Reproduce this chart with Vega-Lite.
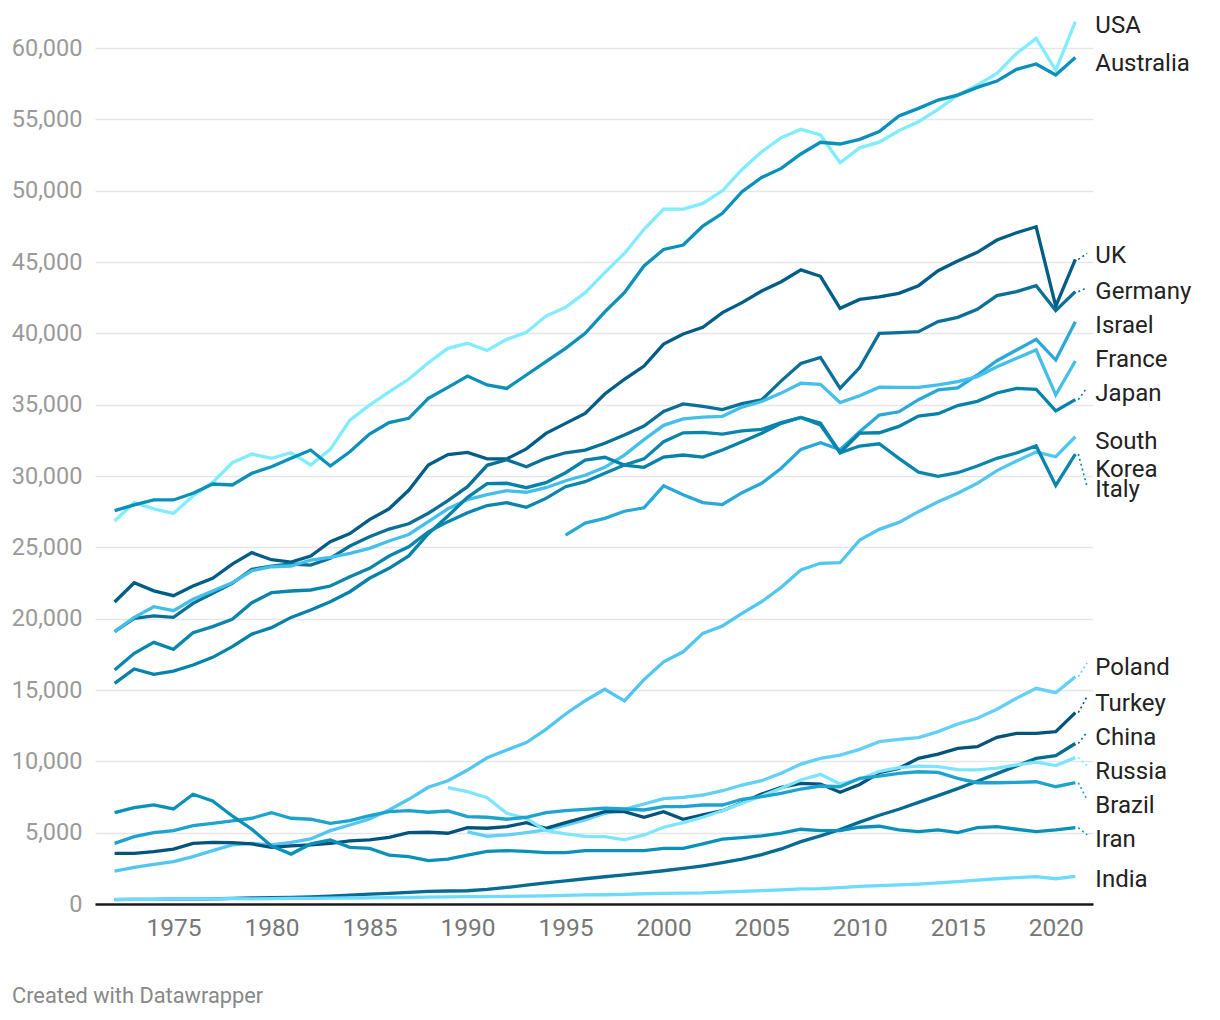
{
  "$schema": "https://vega.github.io/schema/vega-lite/v6.json",
  "width": 998,
  "height": 856,
  "autosize": {"type": "none"},
  "padding": {"left": 95, "top": 48, "right": 127, "bottom": 116},
  "background": "white",
  "config": {"font": "Roboto", "view": {"stroke": null}},
  "title": {"text": "Created with Datawrapper", "orient": "bottom", "anchor": "start", "frame": "group", "dx": -83, "offset": 46, "fontSize": 21.8, "fontWeight": "normal", "color": "#888888", "font": "Roboto"},
  "datasets": {
    "gdp": [
      {"country":"USA","year":1972,"gdp":26850},{"country":"USA","year":1973,"gdp":28130},{"country":"USA","year":1974,"gdp":27700},{"country":"USA","year":1975,"gdp":27380},{"country":"USA","year":1976,"gdp":28600},{"country":"USA","year":1977,"gdp":29550},{"country":"USA","year":1978,"gdp":30930},{"country":"USA","year":1979,"gdp":31540},{"country":"USA","year":1980,"gdp":31240},{"country":"USA","year":1981,"gdp":31630},
      {"country":"USA","year":1982,"gdp":30770},{"country":"USA","year":1983,"gdp":31870},{"country":"USA","year":1984,"gdp":33920},{"country":"USA","year":1985,"gdp":34970},{"country":"USA","year":1986,"gdp":35900},{"country":"USA","year":1987,"gdp":36780},{"country":"USA","year":1988,"gdp":37940},{"country":"USA","year":1989,"gdp":38950},{"country":"USA","year":1990,"gdp":39300},{"country":"USA","year":1991,"gdp":38800},
      {"country":"USA","year":1992,"gdp":39580},{"country":"USA","year":1993,"gdp":40070},{"country":"USA","year":1994,"gdp":41210},{"country":"USA","year":1995,"gdp":41820},{"country":"USA","year":1996,"gdp":42850},{"country":"USA","year":1997,"gdp":44250},{"country":"USA","year":1998,"gdp":45600},{"country":"USA","year":1999,"gdp":47290},{"country":"USA","year":2000,"gdp":48710},{"country":"USA","year":2001,"gdp":48710},
      {"country":"USA","year":2002,"gdp":49110},{"country":"USA","year":2003,"gdp":49990},{"country":"USA","year":2004,"gdp":51490},{"country":"USA","year":2005,"gdp":52730},{"country":"USA","year":2006,"gdp":53710},{"country":"USA","year":2007,"gdp":54300},{"country":"USA","year":2008,"gdp":53900},{"country":"USA","year":2009,"gdp":51960},{"country":"USA","year":2010,"gdp":53000},{"country":"USA","year":2011,"gdp":53400},
      {"country":"USA","year":2012,"gdp":54200},{"country":"USA","year":2013,"gdp":54830},{"country":"USA","year":2014,"gdp":55700},{"country":"USA","year":2015,"gdp":56700},{"country":"USA","year":2016,"gdp":57400},{"country":"USA","year":2017,"gdp":58220},{"country":"USA","year":2018,"gdp":59620},{"country":"USA","year":2019,"gdp":60670},{"country":"USA","year":2020,"gdp":58450},{"country":"USA","year":2021,"gdp":61840},

      {"country":"Australia","year":1972,"gdp":27570},{"country":"Australia","year":1973,"gdp":27970},{"country":"Australia","year":1974,"gdp":28320},{"country":"Australia","year":1975,"gdp":28320},{"country":"Australia","year":1976,"gdp":28790},{"country":"Australia","year":1977,"gdp":29440},{"country":"Australia","year":1978,"gdp":29370},{"country":"Australia","year":1979,"gdp":30190},{"country":"Australia","year":1980,"gdp":30650},{"country":"Australia","year":1981,"gdp":31240},
      {"country":"Australia","year":1982,"gdp":31820},{"country":"Australia","year":1983,"gdp":30700},{"country":"Australia","year":1984,"gdp":31700},{"country":"Australia","year":1985,"gdp":32940},{"country":"Australia","year":1986,"gdp":33740},{"country":"Australia","year":1987,"gdp":34040},{"country":"Australia","year":1988,"gdp":35440},{"country":"Australia","year":1989,"gdp":36210},{"country":"Australia","year":1990,"gdp":37010},{"country":"Australia","year":1991,"gdp":36380},
      {"country":"Australia","year":1992,"gdp":36140},{"country":"Australia","year":1993,"gdp":37080},{"country":"Australia","year":1994,"gdp":38010},{"country":"Australia","year":1995,"gdp":38950},{"country":"Australia","year":1996,"gdp":40000},{"country":"Australia","year":1997,"gdp":41500},{"country":"Australia","year":1998,"gdp":42850},{"country":"Australia","year":1999,"gdp":44720},{"country":"Australia","year":2000,"gdp":45880},{"country":"Australia","year":2001,"gdp":46190},
      {"country":"Australia","year":2002,"gdp":47520},{"country":"Australia","year":2003,"gdp":48410},{"country":"Australia","year":2004,"gdp":49930},{"country":"Australia","year":2005,"gdp":50930},{"country":"Australia","year":2006,"gdp":51560},{"country":"Australia","year":2007,"gdp":52570},{"country":"Australia","year":2008,"gdp":53390},{"country":"Australia","year":2009,"gdp":53270},{"country":"Australia","year":2010,"gdp":53600},{"country":"Australia","year":2011,"gdp":54150},
      {"country":"Australia","year":2012,"gdp":55230},{"country":"Australia","year":2013,"gdp":55770},{"country":"Australia","year":2014,"gdp":56350},{"country":"Australia","year":2015,"gdp":56700},{"country":"Australia","year":2016,"gdp":57240},{"country":"Australia","year":2017,"gdp":57680},{"country":"Australia","year":2018,"gdp":58500},{"country":"Australia","year":2019,"gdp":58880},{"country":"Australia","year":2020,"gdp":58110},{"country":"Australia","year":2021,"gdp":59340},

      {"country":"UK","year":1972,"gdp":21170},{"country":"UK","year":1973,"gdp":22520},{"country":"UK","year":1974,"gdp":21950},{"country":"UK","year":1975,"gdp":21610},{"country":"UK","year":1976,"gdp":22290},{"country":"UK","year":1977,"gdp":22830},{"country":"UK","year":1978,"gdp":23820},{"country":"UK","year":1979,"gdp":24630},{"country":"UK","year":1980,"gdp":24130},{"country":"UK","year":1981,"gdp":23970},
      {"country":"UK","year":1982,"gdp":24390},{"country":"UK","year":1983,"gdp":25390},{"country":"UK","year":1984,"gdp":25960},{"country":"UK","year":1985,"gdp":26940},{"country":"UK","year":1986,"gdp":27700},{"country":"UK","year":1987,"gdp":29000},{"country":"UK","year":1988,"gdp":30770},{"country":"UK","year":1989,"gdp":31500},{"country":"UK","year":1990,"gdp":31650},{"country":"UK","year":1991,"gdp":31200},
      {"country":"UK","year":1992,"gdp":31200},{"country":"UK","year":1993,"gdp":31900},{"country":"UK","year":1994,"gdp":32990},{"country":"UK","year":1995,"gdp":33690},{"country":"UK","year":1996,"gdp":34390},{"country":"UK","year":1997,"gdp":35750},{"country":"UK","year":1998,"gdp":36780},{"country":"UK","year":1999,"gdp":37710},{"country":"UK","year":2000,"gdp":39250},{"country":"UK","year":2001,"gdp":39950},
      {"country":"UK","year":2002,"gdp":40420},{"country":"UK","year":2003,"gdp":41450},{"country":"UK","year":2004,"gdp":42150},{"country":"UK","year":2005,"gdp":42970},{"country":"UK","year":2006,"gdp":43620},{"country":"UK","year":2007,"gdp":44450},{"country":"UK","year":2008,"gdp":44000},{"country":"UK","year":2009,"gdp":41750},{"country":"UK","year":2010,"gdp":42380},{"country":"UK","year":2011,"gdp":42550},
      {"country":"UK","year":2012,"gdp":42800},{"country":"UK","year":2013,"gdp":43340},{"country":"UK","year":2014,"gdp":44390},{"country":"UK","year":2015,"gdp":45070},{"country":"UK","year":2016,"gdp":45680},{"country":"UK","year":2017,"gdp":46540},{"country":"UK","year":2018,"gdp":47050},{"country":"UK","year":2019,"gdp":47470},{"country":"UK","year":2020,"gdp":41900},{"country":"UK","year":2021,"gdp":45180},

      {"country":"Germany","year":1972,"gdp":19090},{"country":"Germany","year":1973,"gdp":20020},{"country":"Germany","year":1974,"gdp":20190},{"country":"Germany","year":1975,"gdp":20090},{"country":"Germany","year":1976,"gdp":21070},{"country":"Germany","year":1977,"gdp":21780},{"country":"Germany","year":1978,"gdp":22480},{"country":"Germany","year":1979,"gdp":23460},{"country":"Germany","year":1980,"gdp":23690},{"country":"Germany","year":1981,"gdp":23830},
      {"country":"Germany","year":1982,"gdp":23760},{"country":"Germany","year":1983,"gdp":24230},{"country":"Germany","year":1984,"gdp":25090},{"country":"Germany","year":1985,"gdp":25740},{"country":"Germany","year":1986,"gdp":26280},{"country":"Germany","year":1987,"gdp":26650},{"country":"Germany","year":1988,"gdp":27390},{"country":"Germany","year":1989,"gdp":28270},{"country":"Germany","year":1990,"gdp":29250},{"country":"Germany","year":1991,"gdp":30750},
      {"country":"Germany","year":1992,"gdp":31140},{"country":"Germany","year":1993,"gdp":30650},{"country":"Germany","year":1994,"gdp":31240},{"country":"Germany","year":1995,"gdp":31630},{"country":"Germany","year":1996,"gdp":31820},{"country":"Germany","year":1997,"gdp":32290},{"country":"Germany","year":1998,"gdp":32870},{"country":"Germany","year":1999,"gdp":33500},{"country":"Germany","year":2000,"gdp":34520},{"country":"Germany","year":2001,"gdp":35050},
      {"country":"Germany","year":2002,"gdp":34880},{"country":"Germany","year":2003,"gdp":34650},{"country":"Germany","year":2004,"gdp":35070},{"country":"Germany","year":2005,"gdp":35330},{"country":"Germany","year":2006,"gdp":36670},{"country":"Germany","year":2007,"gdp":37890},{"country":"Germany","year":2008,"gdp":38310},{"country":"Germany","year":2009,"gdp":36140},{"country":"Germany","year":2010,"gdp":37600},{"country":"Germany","year":2011,"gdp":40000},
      {"country":"Germany","year":2012,"gdp":40050},{"country":"Germany","year":2013,"gdp":40120},{"country":"Germany","year":2014,"gdp":40820},{"country":"Germany","year":2015,"gdp":41120},{"country":"Germany","year":2016,"gdp":41680},{"country":"Germany","year":2017,"gdp":42640},{"country":"Germany","year":2018,"gdp":42920},{"country":"Germany","year":2019,"gdp":43340},{"country":"Germany","year":2020,"gdp":41600},{"country":"Germany","year":2021,"gdp":42920},

      {"country":"Israel","year":1995,"gdp":25860},{"country":"Israel","year":1996,"gdp":26700},{"country":"Israel","year":1997,"gdp":27030},{"country":"Israel","year":1998,"gdp":27530},{"country":"Israel","year":1999,"gdp":27770},{"country":"Israel","year":2000,"gdp":29310},{"country":"Israel","year":2001,"gdp":28690},
      {"country":"Israel","year":2002,"gdp":28140},{"country":"Israel","year":2003,"gdp":28000},{"country":"Israel","year":2004,"gdp":28830},{"country":"Israel","year":2005,"gdp":29490},{"country":"Israel","year":2006,"gdp":30540},{"country":"Israel","year":2007,"gdp":31870},{"country":"Israel","year":2008,"gdp":32330},{"country":"Israel","year":2009,"gdp":31850},{"country":"Israel","year":2010,"gdp":33100},{"country":"Israel","year":2011,"gdp":34270},
      {"country":"Israel","year":2012,"gdp":34500},{"country":"Israel","year":2013,"gdp":35350},{"country":"Israel","year":2014,"gdp":36030},{"country":"Israel","year":2015,"gdp":36180},{"country":"Israel","year":2016,"gdp":37080},{"country":"Israel","year":2017,"gdp":38080},{"country":"Israel","year":2018,"gdp":38830},{"country":"Israel","year":2019,"gdp":39580},{"country":"Israel","year":2020,"gdp":38130},{"country":"Israel","year":2021,"gdp":40810},

      {"country":"France","year":1972,"gdp":19090},{"country":"France","year":1973,"gdp":20090},{"country":"France","year":1974,"gdp":20840},{"country":"France","year":1975,"gdp":20560},{"country":"France","year":1976,"gdp":21360},{"country":"France","year":1977,"gdp":21940},{"country":"France","year":1978,"gdp":22520},{"country":"France","year":1979,"gdp":23360},{"country":"France","year":1980,"gdp":23640},{"country":"France","year":1981,"gdp":23690},
      {"country":"France","year":1982,"gdp":24110},{"country":"France","year":1983,"gdp":24300},{"country":"France","year":1984,"gdp":24580},{"country":"France","year":1985,"gdp":24930},{"country":"France","year":1986,"gdp":25440},{"country":"France","year":1987,"gdp":25900},{"country":"France","year":1988,"gdp":26800},{"country":"France","year":1989,"gdp":27700},{"country":"France","year":1990,"gdp":28350},{"country":"France","year":1991,"gdp":28690},
      {"country":"France","year":1992,"gdp":28970},{"country":"France","year":1993,"gdp":28860},{"country":"France","year":1994,"gdp":29180},{"country":"France","year":1995,"gdp":29670},{"country":"France","year":1996,"gdp":30050},{"country":"France","year":1997,"gdp":30610},{"country":"France","year":1998,"gdp":31470},{"country":"France","year":1999,"gdp":32550},{"country":"France","year":2000,"gdp":33550},{"country":"France","year":2001,"gdp":34000},
      {"country":"France","year":2002,"gdp":34130},{"country":"France","year":2003,"gdp":34180},{"country":"France","year":2004,"gdp":34830},{"country":"France","year":2005,"gdp":35220},{"country":"France","year":2006,"gdp":35810},{"country":"France","year":2007,"gdp":36500},{"country":"France","year":2008,"gdp":36420},{"country":"France","year":2009,"gdp":35150},{"country":"France","year":2010,"gdp":35620},{"country":"France","year":2011,"gdp":36230},
      {"country":"France","year":2012,"gdp":36210},{"country":"France","year":2013,"gdp":36210},{"country":"France","year":2014,"gdp":36380},{"country":"France","year":2015,"gdp":36610},{"country":"France","year":2016,"gdp":36960},{"country":"France","year":2017,"gdp":37660},{"country":"France","year":2018,"gdp":38250},{"country":"France","year":2019,"gdp":38830},{"country":"France","year":2020,"gdp":35680},{"country":"France","year":2021,"gdp":38060},

      {"country":"Japan","year":1972,"gdp":15470},{"country":"Japan","year":1973,"gdp":16470},{"country":"Japan","year":1974,"gdp":16100},{"country":"Japan","year":1975,"gdp":16330},{"country":"Japan","year":1976,"gdp":16750},{"country":"Japan","year":1977,"gdp":17290},{"country":"Japan","year":1978,"gdp":18040},{"country":"Japan","year":1979,"gdp":18920},{"country":"Japan","year":1980,"gdp":19370},{"country":"Japan","year":1981,"gdp":20090},
      {"country":"Japan","year":1982,"gdp":20610},{"country":"Japan","year":1983,"gdp":21190},{"country":"Japan","year":1984,"gdp":21890},{"country":"Japan","year":1985,"gdp":22830},{"country":"Japan","year":1986,"gdp":23530},{"country":"Japan","year":1987,"gdp":24400},{"country":"Japan","year":1988,"gdp":25950},{"country":"Japan","year":1989,"gdp":27200},{"country":"Japan","year":1990,"gdp":28500},{"country":"Japan","year":1991,"gdp":29460},
      {"country":"Japan","year":1992,"gdp":29490},{"country":"Japan","year":1993,"gdp":29180},{"country":"Japan","year":1994,"gdp":29530},{"country":"Japan","year":1995,"gdp":30230},{"country":"Japan","year":1996,"gdp":31120},{"country":"Japan","year":1997,"gdp":31310},{"country":"Japan","year":1998,"gdp":30770},{"country":"Japan","year":1999,"gdp":30610},{"country":"Japan","year":2000,"gdp":31330},{"country":"Japan","year":2001,"gdp":31470},
      {"country":"Japan","year":2002,"gdp":31330},{"country":"Japan","year":2003,"gdp":31820},{"country":"Japan","year":2004,"gdp":32400},{"country":"Japan","year":2005,"gdp":32990},{"country":"Japan","year":2006,"gdp":33690},{"country":"Japan","year":2007,"gdp":34110},{"country":"Japan","year":2008,"gdp":33700},{"country":"Japan","year":2009,"gdp":31630},{"country":"Japan","year":2010,"gdp":33000},{"country":"Japan","year":2011,"gdp":33030},
      {"country":"Japan","year":2012,"gdp":33480},{"country":"Japan","year":2013,"gdp":34200},{"country":"Japan","year":2014,"gdp":34370},{"country":"Japan","year":2015,"gdp":34940},{"country":"Japan","year":2016,"gdp":35230},{"country":"Japan","year":2017,"gdp":35820},{"country":"Japan","year":2018,"gdp":36140},{"country":"Japan","year":2019,"gdp":36080},{"country":"Japan","year":2020,"gdp":34560},{"country":"Japan","year":2021,"gdp":35350},

      {"country":"South Korea","year":1972,"gdp":2310},{"country":"South Korea","year":1973,"gdp":2570},{"country":"South Korea","year":1974,"gdp":2780},{"country":"South Korea","year":1975,"gdp":2970},{"country":"South Korea","year":1976,"gdp":3320},{"country":"South Korea","year":1977,"gdp":3740},{"country":"South Korea","year":1978,"gdp":4140},{"country":"South Korea","year":1979,"gdp":4250},{"country":"South Korea","year":1980,"gdp":4140},{"country":"South Korea","year":1981,"gdp":4320},
      {"country":"South Korea","year":1982,"gdp":4560},{"country":"South Korea","year":1983,"gdp":5140},{"country":"South Korea","year":1984,"gdp":5540},{"country":"South Korea","year":1985,"gdp":5960},{"country":"South Korea","year":1986,"gdp":6590},{"country":"South Korea","year":1987,"gdp":7340},{"country":"South Korea","year":1988,"gdp":8180},{"country":"South Korea","year":1989,"gdp":8640},{"country":"South Korea","year":1990,"gdp":9390},{"country":"South Korea","year":1991,"gdp":10250},
      {"country":"South Korea","year":1992,"gdp":10790},{"country":"South Korea","year":1993,"gdp":11310},{"country":"South Korea","year":1994,"gdp":12240},{"country":"South Korea","year":1995,"gdp":13320},{"country":"South Korea","year":1996,"gdp":14250},{"country":"South Korea","year":1997,"gdp":15050},{"country":"South Korea","year":1998,"gdp":14230},{"country":"South Korea","year":1999,"gdp":15730},{"country":"South Korea","year":2000,"gdp":16980},{"country":"South Korea","year":2001,"gdp":17680},
      {"country":"South Korea","year":2002,"gdp":18970},{"country":"South Korea","year":2003,"gdp":19490},{"country":"South Korea","year":2004,"gdp":20370},{"country":"South Korea","year":2005,"gdp":21190},{"country":"South Korea","year":2006,"gdp":22200},{"country":"South Korea","year":2007,"gdp":23410},{"country":"South Korea","year":2008,"gdp":23880},{"country":"South Korea","year":2009,"gdp":23920},{"country":"South Korea","year":2010,"gdp":25510},{"country":"South Korea","year":2011,"gdp":26260},
      {"country":"South Korea","year":2012,"gdp":26750},{"country":"South Korea","year":2013,"gdp":27500},{"country":"South Korea","year":2014,"gdp":28200},{"country":"South Korea","year":2015,"gdp":28790},{"country":"South Korea","year":2016,"gdp":29490},{"country":"South Korea","year":2017,"gdp":30380},{"country":"South Korea","year":2018,"gdp":31050},{"country":"South Korea","year":2019,"gdp":31680},{"country":"South Korea","year":2020,"gdp":31350},{"country":"South Korea","year":2021,"gdp":32750},

      {"country":"Italy","year":1972,"gdp":16400},{"country":"Italy","year":1973,"gdp":17570},{"country":"Italy","year":1974,"gdp":18340},{"country":"Italy","year":1975,"gdp":17850},{"country":"Italy","year":1976,"gdp":19020},{"country":"Italy","year":1977,"gdp":19440},{"country":"Italy","year":1978,"gdp":19950},{"country":"Italy","year":1979,"gdp":21120},{"country":"Italy","year":1980,"gdp":21820},{"country":"Italy","year":1981,"gdp":21940},
      {"country":"Italy","year":1982,"gdp":22010},{"country":"Italy","year":1983,"gdp":22290},{"country":"Italy","year":1984,"gdp":22940},{"country":"Italy","year":1985,"gdp":23530},{"country":"Italy","year":1986,"gdp":24390},{"country":"Italy","year":1987,"gdp":25040},{"country":"Italy","year":1988,"gdp":26090},{"country":"Italy","year":1989,"gdp":26800},{"country":"Italy","year":1990,"gdp":27430},{"country":"Italy","year":1991,"gdp":27930},
      {"country":"Italy","year":1992,"gdp":28130},{"country":"Italy","year":1993,"gdp":27810},{"country":"Italy","year":1994,"gdp":28430},{"country":"Italy","year":1995,"gdp":29250},{"country":"Italy","year":1996,"gdp":29600},{"country":"Italy","year":1997,"gdp":30190},{"country":"Italy","year":1998,"gdp":30770},{"country":"Italy","year":1999,"gdp":31200},{"country":"Italy","year":2000,"gdp":32400},{"country":"Italy","year":2001,"gdp":33030},
      {"country":"Italy","year":2002,"gdp":33060},{"country":"Italy","year":2003,"gdp":32940},{"country":"Italy","year":2004,"gdp":33170},{"country":"Italy","year":2005,"gdp":33270},{"country":"Italy","year":2006,"gdp":33740},{"country":"Italy","year":2007,"gdp":34110},{"country":"Italy","year":2008,"gdp":33570},{"country":"Italy","year":2009,"gdp":31630},{"country":"Italy","year":2010,"gdp":32100},{"country":"Italy","year":2011,"gdp":32260},
      {"country":"Italy","year":2012,"gdp":31240},{"country":"Italy","year":2013,"gdp":30270},{"country":"Italy","year":2014,"gdp":29980},{"country":"Italy","year":2015,"gdp":30230},{"country":"Italy","year":2016,"gdp":30700},{"country":"Italy","year":2017,"gdp":31240},{"country":"Italy","year":2018,"gdp":31610},{"country":"Italy","year":2019,"gdp":32110},{"country":"Italy","year":2020,"gdp":29340},{"country":"Italy","year":2021,"gdp":31540},

      {"country":"Poland","year":1990,"gdp":5060},{"country":"Poland","year":1991,"gdp":4750},
      {"country":"Poland","year":1992,"gdp":4840},{"country":"Poland","year":1993,"gdp":5000},{"country":"Poland","year":1994,"gdp":5190},{"country":"Poland","year":1995,"gdp":5520},{"country":"Poland","year":1996,"gdp":5890},{"country":"Poland","year":1997,"gdp":6360},{"country":"Poland","year":1998,"gdp":6630},{"country":"Poland","year":1999,"gdp":7010},{"country":"Poland","year":2000,"gdp":7380},{"country":"Poland","year":2001,"gdp":7480},
      {"country":"Poland","year":2002,"gdp":7640},{"country":"Poland","year":2003,"gdp":7940},{"country":"Poland","year":2004,"gdp":8340},{"country":"Poland","year":2005,"gdp":8640},{"country":"Poland","year":2006,"gdp":9160},{"country":"Poland","year":2007,"gdp":9810},{"country":"Poland","year":2008,"gdp":10210},{"country":"Poland","year":2009,"gdp":10440},{"country":"Poland","year":2010,"gdp":10840},{"country":"Poland","year":2011,"gdp":11380},
      {"country":"Poland","year":2012,"gdp":11540},{"country":"Poland","year":2013,"gdp":11660},{"country":"Poland","year":2014,"gdp":12080},{"country":"Poland","year":2015,"gdp":12620},{"country":"Poland","year":2016,"gdp":13020},{"country":"Poland","year":2017,"gdp":13650},{"country":"Poland","year":2018,"gdp":14420},{"country":"Poland","year":2019,"gdp":15120},{"country":"Poland","year":2020,"gdp":14810},{"country":"Poland","year":2021,"gdp":15930},

      {"country":"Turkey","year":1972,"gdp":3550},{"country":"Turkey","year":1973,"gdp":3550},{"country":"Turkey","year":1974,"gdp":3670},{"country":"Turkey","year":1975,"gdp":3850},{"country":"Turkey","year":1976,"gdp":4250},{"country":"Turkey","year":1977,"gdp":4320},{"country":"Turkey","year":1978,"gdp":4300},{"country":"Turkey","year":1979,"gdp":4210},{"country":"Turkey","year":1980,"gdp":3970},{"country":"Turkey","year":1981,"gdp":4070},
      {"country":"Turkey","year":1982,"gdp":4140},{"country":"Turkey","year":1983,"gdp":4250},{"country":"Turkey","year":1984,"gdp":4420},{"country":"Turkey","year":1985,"gdp":4490},{"country":"Turkey","year":1986,"gdp":4670},{"country":"Turkey","year":1987,"gdp":5000},{"country":"Turkey","year":1988,"gdp":5030},{"country":"Turkey","year":1989,"gdp":4960},{"country":"Turkey","year":1990,"gdp":5350},{"country":"Turkey","year":1991,"gdp":5310},
      {"country":"Turkey","year":1992,"gdp":5420},{"country":"Turkey","year":1993,"gdp":5700},{"country":"Turkey","year":1994,"gdp":5310},{"country":"Turkey","year":1995,"gdp":5700},{"country":"Turkey","year":1996,"gdp":6080},{"country":"Turkey","year":1997,"gdp":6470},{"country":"Turkey","year":1998,"gdp":6470},{"country":"Turkey","year":1999,"gdp":6080},{"country":"Turkey","year":2000,"gdp":6470},{"country":"Turkey","year":2001,"gdp":5940},
      {"country":"Turkey","year":2002,"gdp":6240},{"country":"Turkey","year":2003,"gdp":6540},{"country":"Turkey","year":2004,"gdp":7100},{"country":"Turkey","year":2005,"gdp":7710},{"country":"Turkey","year":2006,"gdp":8180},{"country":"Turkey","year":2007,"gdp":8460},{"country":"Turkey","year":2008,"gdp":8410},{"country":"Turkey","year":2009,"gdp":7830},{"country":"Turkey","year":2010,"gdp":8380},{"country":"Turkey","year":2011,"gdp":9200},
      {"country":"Turkey","year":2012,"gdp":9510},{"country":"Turkey","year":2013,"gdp":10210},{"country":"Turkey","year":2014,"gdp":10510},{"country":"Turkey","year":2015,"gdp":10910},{"country":"Turkey","year":2016,"gdp":11030},{"country":"Turkey","year":2017,"gdp":11680},{"country":"Turkey","year":2018,"gdp":11960},{"country":"Turkey","year":2019,"gdp":11960},{"country":"Turkey","year":2020,"gdp":12080},{"country":"Turkey","year":2021,"gdp":13410},

      {"country":"China","year":1972,"gdp":300},{"country":"China","year":1973,"gdp":320},{"country":"China","year":1974,"gdp":325},{"country":"China","year":1975,"gdp":345},{"country":"China","year":1976,"gdp":340},{"country":"China","year":1977,"gdp":360},{"country":"China","year":1978,"gdp":395},{"country":"China","year":1979,"gdp":420},{"country":"China","year":1980,"gdp":450},{"country":"China","year":1981,"gdp":465},
      {"country":"China","year":1982,"gdp":500},{"country":"China","year":1983,"gdp":550},{"country":"China","year":1984,"gdp":620},{"country":"China","year":1985,"gdp":690},{"country":"China","year":1986,"gdp":740},{"country":"China","year":1987,"gdp":810},{"country":"China","year":1988,"gdp":890},{"country":"China","year":1989,"gdp":910},{"country":"China","year":1990,"gdp":930},{"country":"China","year":1991,"gdp":1020},
      {"country":"China","year":1992,"gdp":1160},{"country":"China","year":1993,"gdp":1320},{"country":"China","year":1994,"gdp":1480},{"country":"China","year":1995,"gdp":1620},{"country":"China","year":1996,"gdp":1770},{"country":"China","year":1997,"gdp":1910},{"country":"China","year":1998,"gdp":2040},{"country":"China","year":1999,"gdp":2180},{"country":"China","year":2000,"gdp":2330},{"country":"China","year":2001,"gdp":2490},
      {"country":"China","year":2002,"gdp":2680},{"country":"China","year":2003,"gdp":2900},{"country":"China","year":2004,"gdp":3150},{"country":"China","year":2005,"gdp":3460},{"country":"China","year":2006,"gdp":3860},{"country":"China","year":2007,"gdp":4370},{"country":"China","year":2008,"gdp":4780},{"country":"China","year":2009,"gdp":5220},{"country":"China","year":2010,"gdp":5740},{"country":"China","year":2011,"gdp":6220},
      {"country":"China","year":2012,"gdp":6640},{"country":"China","year":2013,"gdp":7120},{"country":"China","year":2014,"gdp":7600},{"country":"China","year":2015,"gdp":8090},{"country":"China","year":2016,"gdp":8600},{"country":"China","year":2017,"gdp":9140},{"country":"China","year":2018,"gdp":9680},{"country":"China","year":2019,"gdp":10200},{"country":"China","year":2020,"gdp":10400},{"country":"China","year":2021,"gdp":11250},

      {"country":"Russia","year":1989,"gdp":8150},{"country":"Russia","year":1990,"gdp":7870},{"country":"Russia","year":1991,"gdp":7450},
      {"country":"Russia","year":1992,"gdp":6360},{"country":"Russia","year":1993,"gdp":6010},{"country":"Russia","year":1994,"gdp":5140},{"country":"Russia","year":1995,"gdp":4910},{"country":"Russia","year":1996,"gdp":4740},{"country":"Russia","year":1997,"gdp":4720},{"country":"Russia","year":1998,"gdp":4500},{"country":"Russia","year":1999,"gdp":4840},{"country":"Russia","year":2000,"gdp":5380},{"country":"Russia","year":2001,"gdp":5700},
      {"country":"Russia","year":2002,"gdp":6080},{"country":"Russia","year":2003,"gdp":6540},{"country":"Russia","year":2004,"gdp":7060},{"country":"Russia","year":2005,"gdp":7570},{"country":"Russia","year":2006,"gdp":8110},{"country":"Russia","year":2007,"gdp":8690},{"country":"Russia","year":2008,"gdp":9090},{"country":"Russia","year":2009,"gdp":8410},{"country":"Russia","year":2010,"gdp":8740},{"country":"Russia","year":2011,"gdp":9300},
      {"country":"Russia","year":2012,"gdp":9560},{"country":"Russia","year":2013,"gdp":9660},{"country":"Russia","year":2014,"gdp":9630},{"country":"Russia","year":2015,"gdp":9420},{"country":"Russia","year":2016,"gdp":9400},{"country":"Russia","year":2017,"gdp":9520},{"country":"Russia","year":2018,"gdp":9760},{"country":"Russia","year":2019,"gdp":9950},{"country":"Russia","year":2020,"gdp":9700},{"country":"Russia","year":2021,"gdp":10260},

      {"country":"Brazil","year":1972,"gdp":4250},{"country":"Brazil","year":1973,"gdp":4720},{"country":"Brazil","year":1974,"gdp":5000},{"country":"Brazil","year":1975,"gdp":5140},{"country":"Brazil","year":1976,"gdp":5490},{"country":"Brazil","year":1977,"gdp":5650},{"country":"Brazil","year":1978,"gdp":5820},{"country":"Brazil","year":1979,"gdp":6010},{"country":"Brazil","year":1980,"gdp":6400},{"country":"Brazil","year":1981,"gdp":6010},
      {"country":"Brazil","year":1982,"gdp":5940},{"country":"Brazil","year":1983,"gdp":5650},{"country":"Brazil","year":1984,"gdp":5840},{"country":"Brazil","year":1985,"gdp":6190},{"country":"Brazil","year":1986,"gdp":6470},{"country":"Brazil","year":1987,"gdp":6540},{"country":"Brazil","year":1988,"gdp":6430},{"country":"Brazil","year":1989,"gdp":6520},{"country":"Brazil","year":1990,"gdp":6120},{"country":"Brazil","year":1991,"gdp":6080},
      {"country":"Brazil","year":1992,"gdp":5940},{"country":"Brazil","year":1993,"gdp":6080},{"country":"Brazil","year":1994,"gdp":6400},{"country":"Brazil","year":1995,"gdp":6540},{"country":"Brazil","year":1996,"gdp":6630},{"country":"Brazil","year":1997,"gdp":6710},{"country":"Brazil","year":1998,"gdp":6660},{"country":"Brazil","year":1999,"gdp":6590},{"country":"Brazil","year":2000,"gdp":6820},{"country":"Brazil","year":2001,"gdp":6820},
      {"country":"Brazil","year":2002,"gdp":6940},{"country":"Brazil","year":2003,"gdp":6940},{"country":"Brazil","year":2004,"gdp":7340},{"country":"Brazil","year":2005,"gdp":7520},{"country":"Brazil","year":2006,"gdp":7760},{"country":"Brazil","year":2007,"gdp":8060},{"country":"Brazil","year":2008,"gdp":8270},{"country":"Brazil","year":2009,"gdp":8220},{"country":"Brazil","year":2010,"gdp":8810},{"country":"Brazil","year":2011,"gdp":8970},
      {"country":"Brazil","year":2012,"gdp":9160},{"country":"Brazil","year":2013,"gdp":9270},{"country":"Brazil","year":2014,"gdp":9230},{"country":"Brazil","year":2015,"gdp":8810},{"country":"Brazil","year":2016,"gdp":8500},{"country":"Brazil","year":2017,"gdp":8500},{"country":"Brazil","year":2018,"gdp":8530},{"country":"Brazil","year":2019,"gdp":8570},{"country":"Brazil","year":2020,"gdp":8220},{"country":"Brazil","year":2021,"gdp":8500},

      {"country":"Iran","year":1972,"gdp":6400},{"country":"Iran","year":1973,"gdp":6750},{"country":"Iran","year":1974,"gdp":6940},{"country":"Iran","year":1975,"gdp":6660},{"country":"Iran","year":1976,"gdp":7690},{"country":"Iran","year":1977,"gdp":7220},{"country":"Iran","year":1978,"gdp":6170},{"country":"Iran","year":1979,"gdp":5240},{"country":"Iran","year":1980,"gdp":4070},{"country":"Iran","year":1981,"gdp":3500},
      {"country":"Iran","year":1982,"gdp":4210},{"country":"Iran","year":1983,"gdp":4490},{"country":"Iran","year":1984,"gdp":3970},{"country":"Iran","year":1985,"gdp":3900},{"country":"Iran","year":1986,"gdp":3430},{"country":"Iran","year":1987,"gdp":3320},{"country":"Iran","year":1988,"gdp":3040},{"country":"Iran","year":1989,"gdp":3150},{"country":"Iran","year":1990,"gdp":3430},{"country":"Iran","year":1991,"gdp":3690},
      {"country":"Iran","year":1992,"gdp":3740},{"country":"Iran","year":1993,"gdp":3690},{"country":"Iran","year":1994,"gdp":3600},{"country":"Iran","year":1995,"gdp":3600},{"country":"Iran","year":1996,"gdp":3740},{"country":"Iran","year":1997,"gdp":3740},{"country":"Iran","year":1998,"gdp":3740},{"country":"Iran","year":1999,"gdp":3740},{"country":"Iran","year":2000,"gdp":3900},{"country":"Iran","year":2001,"gdp":3900},
      {"country":"Iran","year":2002,"gdp":4210},{"country":"Iran","year":2003,"gdp":4540},{"country":"Iran","year":2004,"gdp":4650},{"country":"Iran","year":2005,"gdp":4770},{"country":"Iran","year":2006,"gdp":4960},{"country":"Iran","year":2007,"gdp":5240},{"country":"Iran","year":2008,"gdp":5140},{"country":"Iran","year":2009,"gdp":5140},{"country":"Iran","year":2010,"gdp":5380},{"country":"Iran","year":2011,"gdp":5450},
      {"country":"Iran","year":2012,"gdp":5190},{"country":"Iran","year":2013,"gdp":5070},{"country":"Iran","year":2014,"gdp":5190},{"country":"Iran","year":2015,"gdp":5000},{"country":"Iran","year":2016,"gdp":5350},{"country":"Iran","year":2017,"gdp":5420},{"country":"Iran","year":2018,"gdp":5240},{"country":"Iran","year":2019,"gdp":5070},{"country":"Iran","year":2020,"gdp":5190},{"country":"Iran","year":2021,"gdp":5350},

      {"country":"India","year":1972,"gdp":330},{"country":"India","year":1973,"gdp":325},{"country":"India","year":1974,"gdp":330},{"country":"India","year":1975,"gdp":350},{"country":"India","year":1976,"gdp":350},{"country":"India","year":1977,"gdp":365},{"country":"India","year":1978,"gdp":375},{"country":"India","year":1979,"gdp":355},{"country":"India","year":1980,"gdp":375},{"country":"India","year":1981,"gdp":390},
      {"country":"India","year":1982,"gdp":395},{"country":"India","year":1983,"gdp":410},{"country":"India","year":1984,"gdp":420},{"country":"India","year":1985,"gdp":435},{"country":"India","year":1986,"gdp":445},{"country":"India","year":1987,"gdp":455},{"country":"India","year":1988,"gdp":485},{"country":"India","year":1989,"gdp":505},{"country":"India","year":1990,"gdp":520},{"country":"India","year":1991,"gdp":515},
      {"country":"India","year":1992,"gdp":535},{"country":"India","year":1993,"gdp":550},{"country":"India","year":1994,"gdp":575},{"country":"India","year":1995,"gdp":600},{"country":"India","year":1996,"gdp":635},{"country":"India","year":1997,"gdp":650},{"country":"India","year":1998,"gdp":680},{"country":"India","year":1999,"gdp":720},{"country":"India","year":2000,"gdp":740},{"country":"India","year":2001,"gdp":765},
      {"country":"India","year":2002,"gdp":780},{"country":"India","year":2003,"gdp":830},{"country":"India","year":2004,"gdp":880},{"country":"India","year":2005,"gdp":935},{"country":"India","year":2006,"gdp":995},{"country":"India","year":2007,"gdp":1060},{"country":"India","year":2008,"gdp":1080},{"country":"India","year":2009,"gdp":1150},{"country":"India","year":2010,"gdp":1240},{"country":"India","year":2011,"gdp":1290},
      {"country":"India","year":2012,"gdp":1340},{"country":"India","year":2013,"gdp":1400},{"country":"India","year":2014,"gdp":1480},{"country":"India","year":2015,"gdp":1570},{"country":"India","year":2016,"gdp":1680},{"country":"India","year":2017,"gdp":1770},{"country":"India","year":2018,"gdp":1850},{"country":"India","year":2019,"gdp":1920},{"country":"India","year":2020,"gdp":1770},{"country":"India","year":2021,"gdp":1930}
    ],
    "labels": [
      {"country":"USA","label":"USA","labelValue":61540},
      {"country":"Australia","label":"Australia","labelValue":58880},
      {"country":"UK","label":"UK","labelValue":45420},
      {"country":"Germany","label":"Germany","labelValue":42900},
      {"country":"Israel","label":"Israel","labelValue":40510},
      {"country":"France","label":"France","labelValue":38130},
      {"country":"Japan","label":"Japan","labelValue":35750},
      {"country":"South Korea","label":"South\nKorea","labelValue":32380},
      {"country":"Italy","label":"Italy","labelValue":29020},
      {"country":"Poland","label":"Poland","labelValue":16540},
      {"country":"Turkey","label":"Turkey","labelValue":14020},
      {"country":"China","label":"China","labelValue":11640},
      {"country":"Russia","label":"Russia","labelValue":9250},
      {"country":"Brazil","label":"Brazil","labelValue":6870},
      {"country":"Iran","label":"Iran","labelValue":4490},
      {"country":"India","label":"India","labelValue":1680}
    ],
    "connectors": [
      {"country":"UK","endValue":45180,"labelValue":45600},
      {"country":"Germany","endValue":42920,"labelValue":43200},
      {"country":"Japan","endValue":35350,"labelValue":36200},
      {"country":"Italy","endValue":31540,"labelValue":29250},
      {"country":"Poland","endValue":15930,"labelValue":16900},
      {"country":"Turkey","endValue":13410,"labelValue":14550},
      {"country":"China","endValue":11250,"labelValue":12050},
      {"country":"Russia","endValue":10260,"labelValue":9700},
      {"country":"Brazil","endValue":8500,"labelValue":7300},
      {"country":"Iran","endValue":5350,"labelValue":4850}
    ]
  },
  "layer": [
    {
      "data": {"name": "gdp"},
      "mark": {"type": "line", "strokeWidth": 3.3, "clip": false},
      "encoding": {
        "x": {
          "field": "year", "type": "quantitative",
          "scale": {"domain": [1971, 2021.9], "nice": false, "zero": false},
          "axis": {
            "title": null, "values": [1975, 1980, 1985, 1990, 1995, 2000, 2005, 2010, 2015, 2020],
            "format": "d", "grid": false, "ticks": false, "tickSize": 0,
            "domain": true, "domainColor": "#1a1a1a", "domainWidth": 2.5,
            "labelFontSize": 24.5, "labelColor": "#777777", "labelPadding": 12, "labelFont": "Roboto"
          }
        },
        "y": {
          "field": "gdp", "type": "quantitative",
          "scale": {"domain": [0, 60000], "nice": false},
          "axis": {
            "title": null, "values": [0, 5000, 10000, 15000, 20000, 25000, 30000, 35000, 40000, 45000, 50000, 55000, 60000],
            "format": ",.0f", "grid": true, "gridColor": "#e6e6e6", "gridWidth": 1.5,
            "domain": false, "ticks": false, "tickSize": 0,
            "labelFontSize": 23.5, "labelColor": "#9a9a9a", "labelPadding": 13, "labelFont": "Roboto"
          }
        },
        "color": {
          "field": "country", "type": "nominal", "legend": null,
          "scale": {
            "domain": ["USA","Australia","UK","Germany","Israel","France","Japan","South Korea","Italy","Poland","Turkey","China","Russia","Brazil","Iran","India"],
            "range": ["#80ecfd","#0b90b9","#005d85","#0b7098","#2aa9d9","#44bfe9","#0582aa","#52c6f0","#0a86ad","#62d0f7","#03547a","#066b92","#7fe5ff","#1ea3cf","#0b90b8","#6ddaff"]
          }
        }
      }
    },
    {
      "data": {"name": "connectors"},
      "mark": {"type": "rule", "strokeDash": [2, 3], "strokeWidth": 1.6, "clip": false},
      "encoding": {
        "x": {"datum": 2021.15},
        "x2": {"datum": 2021.6},
        "y": {"field": "endValue", "type": "quantitative"},
        "y2": {"field": "labelValue"},
        "color": {"field": "country", "type": "nominal", "legend": null}
      }
    },
    {
      "data": {"name": "labels"},
      "mark": {"type": "text", "align": "left", "baseline": "middle", "dx": 20, "fontSize": 24, "font": "Roboto", "color": "#222222", "lineBreak": "\n", "lineHeight": 28, "clip": false},
      "encoding": {
        "x": {"datum": 2021},
        "y": {"field": "labelValue", "type": "quantitative"},
        "text": {"field": "label", "type": "nominal"}
      }
    }
  ]
}
